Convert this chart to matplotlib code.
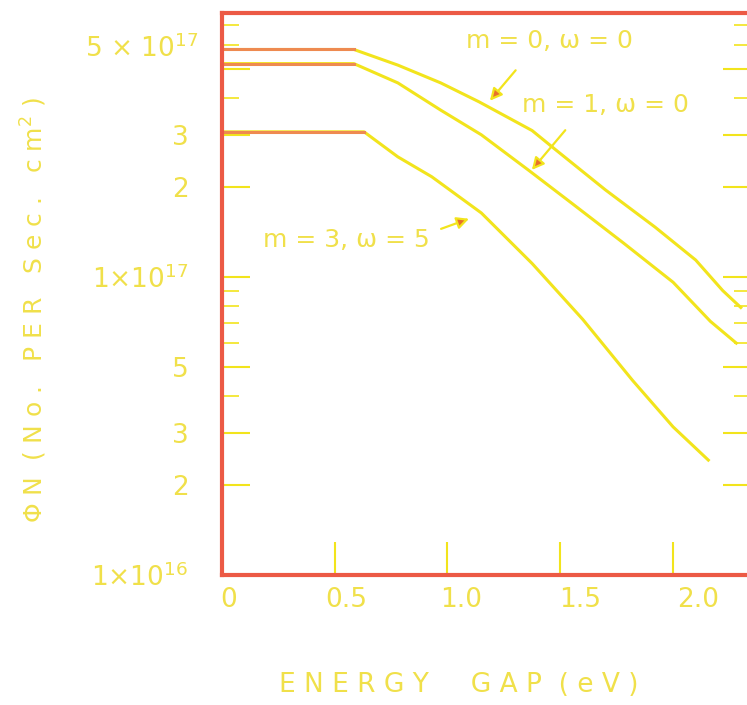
import matplotlib.pyplot as plt

# energy gap (eV) and photon flux for each case
eg_m0 = [0.0, 0.585, 0.78, 0.97, 1.14, 1.375, 1.48, 1.70, 1.92, 2.10, 2.22, 2.30]
flux_m0 = [5.8e17, 5.8e17, 5.14e17, 4.48e17, 3.87e17, 3.1e17, 2.67e17, 1.96e17,
           1.47e17, 1.14e17, 9.0e16, 7.9e16]

eg_m1 = [0.0, 0.585, 0.78, 0.97, 1.15, 1.36, 1.55, 1.78, 2.0, 2.165, 2.28]
flux_m1 = [5.2e17, 5.2e17, 4.48e17, 3.63e17, 3.0e17, 2.28e17, 1.77e17, 1.30e17,
           9.6e16, 7.1e16, 6.0e16]

eg_m3 = [0.0, 0.63, 0.78, 0.93, 1.15, 1.375, 1.60, 1.82, 2.0, 2.156]
flux_m3 = [3.07e17, 3.07e17, 2.53e17, 2.17e17, 1.64e17, 1.11e17, 7.2e16, 4.5e16,
           3.14e16, 2.43e16]

x_ticks = [0.5, 1.0, 1.5, 2.0]
x_labels = ['0', '0.5', '1.0', '1.5', '2.0']
x_label_pos = [0.03, 0.55, 1.06, 1.59, 2.11]
y_major = [1e16, 2e16, 3e16, 5e16, 1e17, 2e17, 3e17, 5e17]
y_labels = ['1×10$^{16}$', '2', '3', '5', '1×10$^{17}$', '2', '3', '']
y_minor = [4e16, 6e16, 7e16, 8e16, 9e16, 4e17, 6e17, 7e17]

YEL = '#f2e41c'
TXT = '#f0e04a'
RED = '#ec5a45'
ORG = '#ee8a50'

fig = plt.figure(figsize=(7.47, 7.05), dpi=100)
ax = fig.add_axes([0.297, 0.1844, 0.708, 0.7972])

for eg, fl in [(eg_m0, flux_m0), (eg_m1, flux_m1), (eg_m3, flux_m3)]:
    ax.plot(eg, fl, color=YEL, lw=2.2)
    # flat part shows up orange-red in the scan
    ax.plot(eg[:2], fl[:2], color=ORG, lw=2.2)

ax.set_yscale('log')
ax.set_xlim(0, 2.344)
ax.set_ylim(1e16, 7.69e17)

ax.set_xticks(x_ticks)
ax.set_xticklabels([])
ax.set_yticks(y_major)
ax.set_yticklabels(y_labels)
ax.set_yticks(y_minor, minor=True)
ax.yaxis.set_minor_formatter(plt.NullFormatter())

ax.tick_params(axis='x', which='major', direction='in', length=24, width=1.5, color=YEL)
ax.tick_params(axis='y', which='major', direction='in', length=20, width=1.5, color=YEL,
               right=True, labelcolor=TXT, labelsize=19, pad=24)
ax.tick_params(axis='y', which='minor', direction='in', length=12, width=1.2, color=YEL,
               right=True)

for xv, lab in zip(x_label_pos, x_labels):
    ax.text(xv, -0.045, lab, transform=ax.get_xaxis_transform(),
            ha='center', va='center', color=TXT, fontsize=19)

# top label sits a bit above its tick in the original
ax.text(-0.045, 5.85e17, '5 × 10$^{17}$', transform=ax.get_yaxis_transform(),
        ha='right', va='center', color=TXT, fontsize=19)

for s in ax.spines.values():
    s.set_color(RED)
    s.set_linewidth(3)

arrow = dict(arrowstyle='-|>', ec=YEL, fc='#e8702a', lw=1.6, mutation_scale=18)
ax.text(1.45, 6.2e17, 'm = 0, ω = 0', color=TXT, fontsize=18, ha='center', va='center')
ax.annotate('', xy=(1.18, 3.84e17), xytext=(1.31, 5.02e17), arrowprops=arrow)
ax.text(1.70, 3.78e17, 'm = 1, ω = 0', color=TXT, fontsize=18, ha='center', va='center')
ax.annotate('', xy=(1.366, 2.25e17), xytext=(1.53, 3.16e17), arrowprops=arrow)
ax.text(0.55, 1.33e17, 'm = 3, ω = 5', color=TXT, fontsize=18, ha='center', va='center')
ax.annotate('', xy=(1.107, 1.58e17), xytext=(0.96, 1.44e17), arrowprops=arrow)

fig.text(0.614, 0.028, 'E N E R G Y     G A P  ( e V )', color=TXT, fontsize=19,
         ha='center', va='center')
fig.text(0.045, 0.56, 'Φ N  ( N o .   P E R   S e c .   c m$^2$ )', color=TXT,
         fontsize=18, rotation=90, ha='center', va='center')

fig.savefig('out.png', dpi=100)
